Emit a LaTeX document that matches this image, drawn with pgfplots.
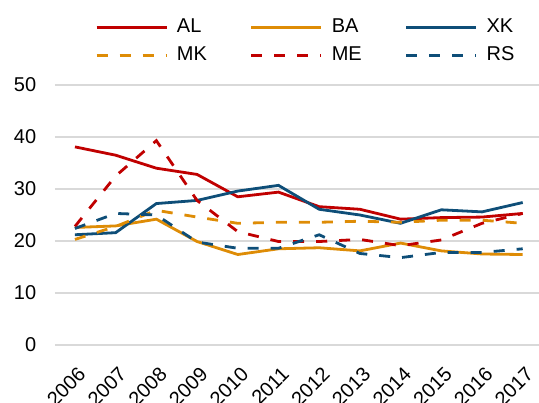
\documentclass[border=0pt]{standalone}
\usepackage{fontspec}
\setmainfont{Liberation Sans}
\usepackage{pgfplots}
\pgfplotsset{compat=1.18}
\definecolor{cred}{RGB}{192,0,0}
\definecolor{corange}{RGB}{222,140,6}
\definecolor{cblue}{RGB}{14,78,120}
\definecolor{cgrid}{RGB}{217,217,217}
\begin{document}
\fontsize{20}{24}\selectfont
\begin{tikzpicture}
\useasboundingbox (-55pt,-58pt) rectangle (484pt,345pt);
\begin{axis}[
  scale only axis, width=484pt, height=260pt,
  xmin=-0.49, xmax=11.4, ymin=0, ymax=50,
  axis line style={draw=none},
  major tick length=0pt,
  ytick={0,10,...,50},
  ymajorgrids, grid style={cgrid, line width=1.5pt},
  xtick={0,...,11},
  xticklabels={2006,2007,2008,2009,2010,2011,2012,2013,2014,2015,2016,2017},
  xticklabel style={xshift=2pt, yshift=-19pt, rotate=45, anchor=north east, inner sep=1pt},
  yticklabel style={xshift=-12pt},
  /pgf/number format/assume math mode=true,
  every axis plot/.append style={line width=2.8pt},
  legend columns=3,
  legend style={draw=none, fill=none, at={(40pt,328pt)}, anchor=north west,
    /tikz/every even column/.append style={column sep=41pt},
    row sep=7pt, inner sep=0pt, cells={anchor=west}},
  legend image code/.code={\draw[#1] (0pt,0pt) -- (70pt,0pt); \path (77pt,0pt);},
]
\addplot[cred] coordinates {(0,38.1)(1,36.5)(2,34.0)(3,32.8)(4,28.5)(5,29.4)(6,26.6)(7,26.1)(8,24.2)(9,24.5)(10,24.6)(11,25.3)};
\addlegendentry{AL}
\addplot[corange] coordinates {(0,22.6)(1,22.9)(2,24.2)(3,19.9)(4,17.4)(5,18.5)(6,18.7)(7,18.1)(8,19.6)(9,18.1)(10,17.5)(11,17.4)};
\addlegendentry{BA}
\addplot[cblue] coordinates {(0,21.2)(1,21.6)(2,27.2)(3,27.8)(4,29.6)(5,30.7)(6,26.1)(7,25.0)(8,23.4)(9,26.0)(10,25.6)(11,27.4)};
\addlegendentry{XK}
\addplot[corange, dash pattern=on 11pt off 12pt] coordinates {(0,20.3)(1,22.8)(2,25.9)(3,24.6)(4,23.4)(5,23.6)(6,23.6)(7,23.8)(8,23.6)(9,24.0)(10,24.0)(11,23.4)};
\addlegendentry{MK}
\addplot[cred, dash pattern=on 11pt off 12pt] coordinates {(0,22.8)(1,32.5)(2,39.3)(3,27.8)(4,21.8)(5,19.9)(6,19.9)(7,20.3)(8,19.1)(9,20.2)(10,23.4)(11,25.3)};
\addlegendentry{ME}
\addplot[cblue, dash pattern=on 11pt off 12pt] coordinates {(0,22.4)(1,25.3)(2,25.0)(3,19.8)(4,18.6)(5,18.6)(6,21.2)(7,17.6)(8,16.8)(9,17.8)(10,17.8)(11,18.5)};
\addlegendentry{RS}
\end{axis}
\end{tikzpicture}
\end{document}
